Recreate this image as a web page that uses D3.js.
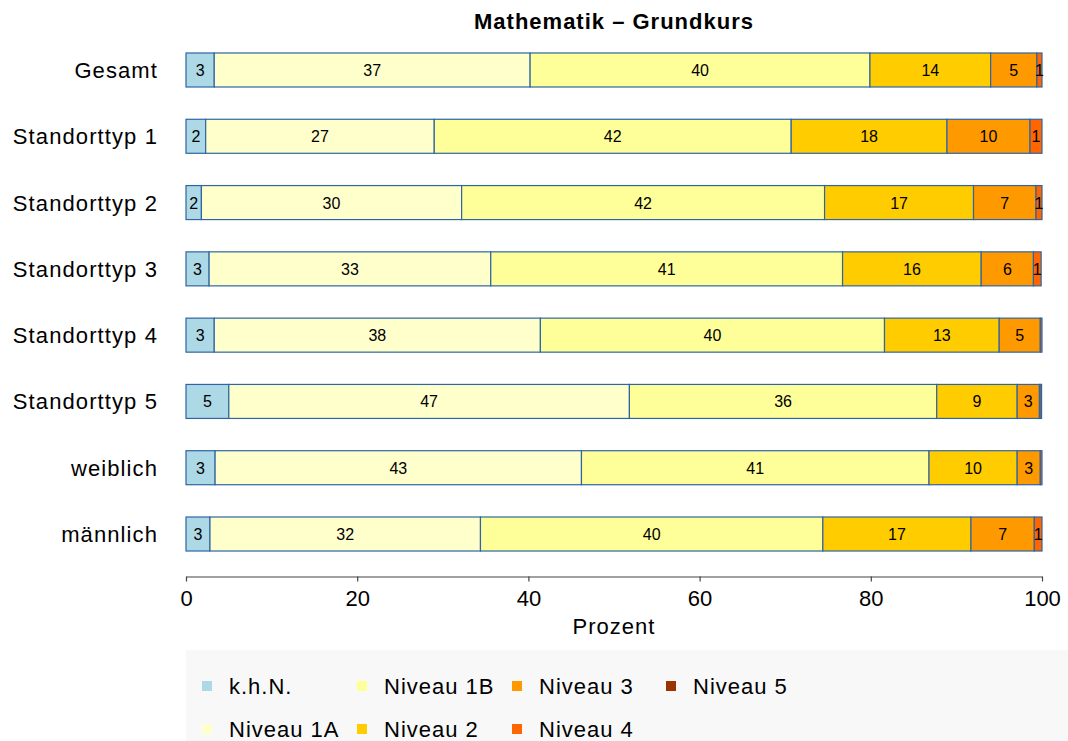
<!DOCTYPE html>
<html>
<head>
<meta charset="utf-8">
<script src="https://cdn.jsdelivr.net/npm/d3@7"></script>
<style>
  body { margin: 0; background: #fff; }
  text { font-family: "Liberation Sans", Arial, sans-serif; fill: #000; }
</style>
</head>
<body>
<div id="chart"></div>
<script>
// data (percent)
var categories = ["Gesamt", "Standorttyp 1", "Standorttyp 2", "Standorttyp 3",
                  "Standorttyp 4", "Standorttyp 5", "weiblich", "männlich"];
var levels = ["k.h.N.", "Niveau 1A", "Niveau 1B", "Niveau 2", "Niveau 3", "Niveau 4", "Niveau 5"];
var khN = [3.3, 2.3, 1.8, 2.7, 3.3, 5.0, 3.4, 2.8];
var niveau1A = [36.9, 26.7, 30.4, 32.9, 38.1, 46.8, 42.8, 31.6];
var niveau1B = [39.7, 41.7, 42.4, 41.1, 40.2, 35.9, 40.6, 40.0];
var niveau2 = [14.1, 18.2, 17.4, 16.2, 13.4, 9.4, 10.3, 17.3];
var niveau3 = [5.4, 9.7, 7.3, 6.1, 4.8, 2.6, 2.7, 7.4];
var niveau4 = [0.6, 1.4, 0.7, 0.9, 0.2, 0.2, 0.2, 0.9];
var niveau5 = [0, 0, 0, 0, 0, 0.05, 0, 0];
var xTicks = [0, 20, 40, 60, 80, 100];

var colors = ["#ADD8E6", "#FFFFCC", "#FFFF99", "#FFCC00", "#FF9900", "#FF6600", "#993300"];
var series = [khN, niveau1A, niveau1B, niveau2, niveau3, niveau4, niveau5];

var width = 1068, height = 741;
var left = 186, right = 1042;

var svg = d3.select("#chart").append("svg")
    .attr("width", width)
    .attr("height", height);

// build rows for the stack
var rows = categories.map(function (c, i) {
    var r = { cat: c };
    levels.forEach(function (l, j) { r[l] = series[j][i]; });
    return r;
});
var stacked = d3.stack().keys(levels)(rows);

var x = d3.scaleLinear().domain([0, 100]).range([left, right]);
var y = d3.scaleBand().domain(categories)
    .range([36.85, 567.15])
    .paddingInner(0.487)
    .paddingOuter(0.2435);
var color = d3.scaleOrdinal().domain(levels).range(colors);

// title
svg.append("text")
    .attr("x", (left + right) / 2)
    .attr("y", 29)
    .attr("text-anchor", "middle")
    .style("font-weight", "bold")
    .style("font-size", "22px")
    .style("letter-spacing", "1px")
    .text("Mathematik – Grundkurs");

// bars
var groups = svg.selectAll(".layer")
    .data(stacked)
    .enter().append("g")
    .attr("class", "layer")
    .attr("fill", function (d) { return color(d.key); });

groups.selectAll("rect")
    .data(function (d) { return d.filter(function (p) { return p[1] - p[0] > 0; }); })
    .enter().append("rect")
    .attr("x", function (d) { return x(d[0]); })
    .attr("width", function (d) { return x(d[1]) - x(d[0]); })
    .attr("y", function (d) { return y(d.data.cat); })
    .attr("height", y.bandwidth())
    .attr("stroke", "#2f65a3")
    .attr("stroke-width", 1.2);

// value labels
function share(p) { return Math.round((p[1] - p[0]) * 10) / 10; }
groups.selectAll("text")
    .data(function (d) { return d.filter(function (p) { return Math.round(share(p)) >= 1; }); })
    .enter().append("text")
    .attr("x", function (d) { return (x(d[0]) + x(d[1])) / 2; })
    .attr("y", function (d) { return y(d.data.cat) + y.bandwidth() / 2 + 6; })
    .attr("text-anchor", "middle")
    .style("font-size", "16px")
    .text(function (d) { return Math.round(share(d)); });

// category labels
svg.selectAll(".cat")
    .data(categories)
    .enter().append("text")
    .attr("class", "cat")
    .attr("x", 158)
    .attr("y", function (d) { return y(d) + y.bandwidth() / 2 + 8; })
    .attr("text-anchor", "end")
    .style("font-size", "22px")
    .style("letter-spacing", "1.1px")
    .text(function (d) { return d; });

// x axis
var axisY = 576.5;
var xAxis = svg.append("g")
    .attr("transform", "translate(0," + axisY + ")")
    .call(d3.axisBottom(x).tickValues(xTicks).tickSize(5).tickSizeOuter(0));
xAxis.select(".domain").attr("stroke", "#444").attr("stroke-width", 1.2);
xAxis.selectAll(".tick line").attr("stroke", "#444").attr("stroke-width", 1.2);
xAxis.selectAll(".tick text")
    .attr("y", 29)
    .attr("dy", 0)
    .style("font-size", "22px")
    .style("font-family", "Liberation Sans, Arial, sans-serif")
    .attr("fill", "#000");

svg.append("text")
    .attr("x", (left + right) / 2)
    .attr("y", 634)
    .attr("text-anchor", "middle")
    .style("font-size", "22px")
    .style("letter-spacing", "1px")
    .text("Prozent");

// legend
svg.append("rect")
    .attr("x", 186).attr("y", 650)
    .attr("width", width - 186).attr("height", height - 650)
    .attr("fill", "#F8F8F8");

var colX = [202, 357, 512, 666];
var rowY = [686, 729];
var legend = svg.selectAll(".leg")
    .data(levels)
    .enter().append("g")
    .attr("class", "leg")
    .attr("transform", function (d, i) {
        return "translate(" + colX[Math.floor(i / 2)] + "," + rowY[i % 2] + ")";
    });
legend.append("rect")
    .attr("x", 0).attr("y", -5)
    .attr("width", 10).attr("height", 10)
    .attr("fill", function (d) { return color(d); });
legend.append("text")
    .attr("x", 27)
    .attr("y", 8)
    .style("font-size", "22px")
    .style("letter-spacing", "1px")
    .text(function (d) { return d; });
</script>
</body>
</html>
